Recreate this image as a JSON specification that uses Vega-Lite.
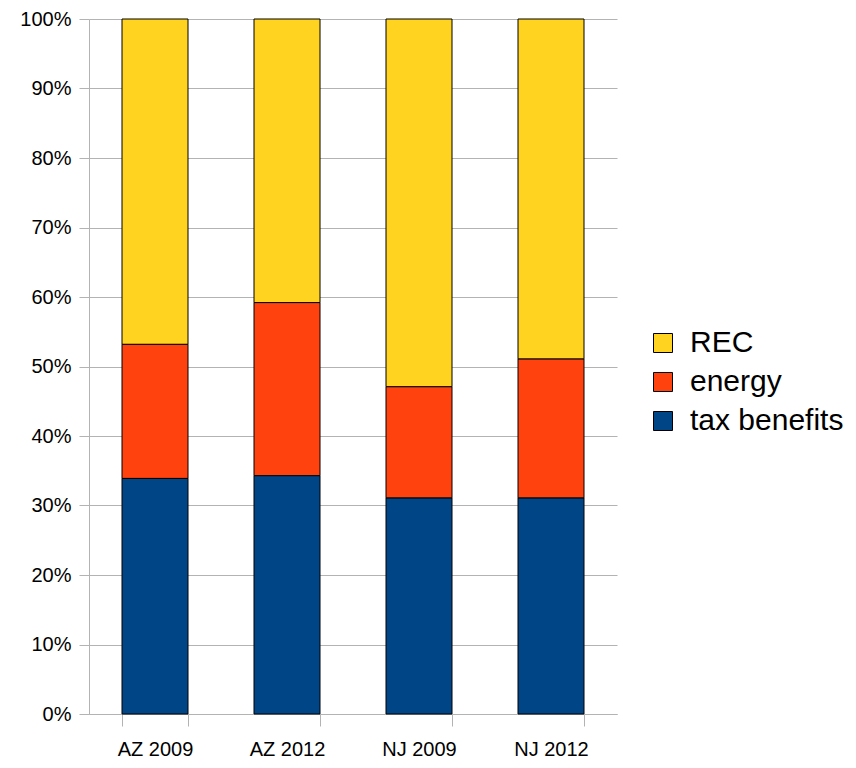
{
  "$schema": "https://vega.github.io/schema/vega-lite/v6.json",
  "width": 528,
  "height": 695,
  "autosize": {"type": "none"},
  "padding": {"left": 89, "top": 19, "right": 239, "bottom": 54},
  "background": "white",
  "config": {
    "view": {"stroke": null},
    "font": "Liberation Sans"
  },
  "data": {
    "values": [
      {"group": "AZ 2009", "series": "tax benefits", "value": 0.339},
      {"group": "AZ 2009", "series": "energy", "value": 0.193},
      {"group": "AZ 2009", "series": "REC", "value": 0.468},
      {"group": "AZ 2012", "series": "tax benefits", "value": 0.343},
      {"group": "AZ 2012", "series": "energy", "value": 0.249},
      {"group": "AZ 2012", "series": "REC", "value": 0.408},
      {"group": "NJ 2009", "series": "tax benefits", "value": 0.311},
      {"group": "NJ 2009", "series": "energy", "value": 0.160},
      {"group": "NJ 2009", "series": "REC", "value": 0.529},
      {"group": "NJ 2012", "series": "tax benefits", "value": 0.311},
      {"group": "NJ 2012", "series": "energy", "value": 0.200},
      {"group": "NJ 2012", "series": "REC", "value": 0.489}
    ]
  },
  "mark": {"type": "bar", "stroke": "#000000", "strokeWidth": 1},
  "encoding": {
    "x": {
      "field": "group",
      "type": "nominal",
      "sort": null,
      "scale": {"paddingInner": 0.5, "paddingOuter": 0.25},
      "axis": {
        "title": null,
        "labelAngle": 0,
        "labelFont": "Liberation Sans",
        "labelFontSize": 20,
        "labelColor": "#000000",
        "labelPadding": 13,
        "tickBand": "extent",
        "tickSize": 12,
        "tickColor": "#b3b3b3",
        "domainColor": "#b3b3b3",
        "grid": false
      }
    },
    "y": {
      "field": "value",
      "type": "quantitative",
      "stack": "zero",
      "scale": {"domain": [0, 1], "nice": false},
      "axis": {
        "title": null,
        "format": ".0%",
        "values": [0, 0.1, 0.2, 0.3, 0.4, 0.5, 0.6, 0.7, 0.8, 0.9, 1],
        "labelFont": "Liberation Sans",
        "labelFontSize": 20,
        "labelColor": "#000000",
        "labelPadding": 8,
        "tickSize": 10,
        "tickColor": "#b3b3b3",
        "domainColor": "#b3b3b3",
        "gridColor": "#b3b3b3",
        "grid": true
      }
    },
    "color": {
      "field": "series",
      "type": "nominal",
      "scale": {
        "domain": ["REC", "energy", "tax benefits"],
        "range": ["#ffd320", "#ff420e", "#004586"]
      },
      "legend": {
        "title": null,
        "orient": "none",
        "legendX": 559,
        "legendY": 309,
        "symbolType": "square",
        "symbolSize": 361,
        "symbolStrokeColor": "#000000",
        "symbolStrokeWidth": 1,
        "symbolOpacity": 1,
        "labelFont": "Liberation Sans",
        "labelFontSize": 30,
        "labelColor": "#000000",
        "labelOffset": 12,
        "rowPadding": 9,
        "labelLimit": 300
      }
    },
    "order": {"field": "series", "sort": "descending"}
  }
}
